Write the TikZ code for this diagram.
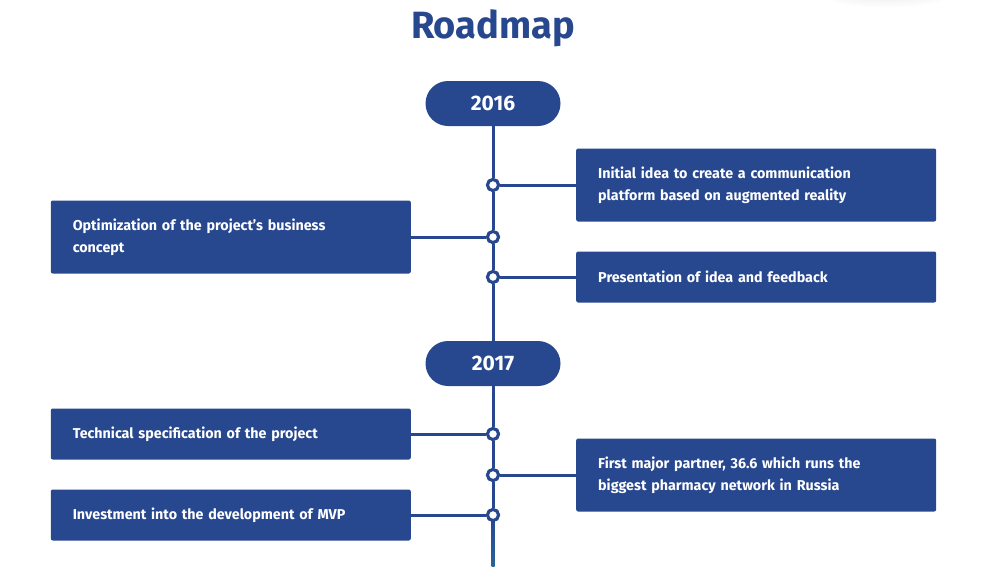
\documentclass[tikz,border=0pt]{standalone}
\usepackage{fontspec}
\setmainfont{Fira Sans}
\usepackage{tikz}
\usetikzlibrary{positioning, calc}

\definecolor{roadblue}{RGB}{39,71,143}
\definecolor{roadteal}{RGB}{40,100,152}

\begin{document}
\begin{tikzpicture}[
    x=1pt, y=-1pt,
    year/.style={rectangle, fill=roadblue, rounded corners=22.5pt, minimum width=135pt, minimum height=45pt, text=white, font=\fontsize{21}{24}\selectfont\bfseries},
    task/.style={rectangle, fill=roadblue, rounded corners=2pt, text width=316pt, inner xsep=22pt, inner ysep=0pt, minimum height=51pt, align=left, text=white, font=\fontsize{14.3}{22}\selectfont\bfseries},
    tall/.style={minimum height=73pt},
    dot/.style={circle, draw=roadblue, line width=3pt, fill=white, minimum size=11pt, inner sep=0pt},
    link/.style={draw=roadblue, line width=3pt}
]
    \useasboundingbox (0,0) rectangle (988,566);

    % faint shadow of the cut-off element top right
    \foreach \r in {1,...,6}
        \fill[black, opacity=0.008] (886,-6) ellipse ({42+4*\r} and {4+1.6*\r});

    % Title
    \node[text=roadblue, font=\fontsize{38}{44}\selectfont\bfseries] (title) at (493,28) {Roadmap};

    % Years
    \node[year] (y2016) at (493,103.5) {2016};
    \node[year] (y2017) at (493,363.5) {2017};

    % Dots on the spine
    \node[dot] (d1) at (493,185) {};
    \node[dot] (d2) at (493,237) {};
    \node[dot] (d3) at (493,277) {};
    \node[dot] (d4) at (493,434) {};
    \node[dot] (d5) at (493,475) {};
    \node[dot] (d6) at (493,515) {};
    \coordinate (end) at (493,566);

    % Tasks
    \node[task, tall, right=76pt of d1] (idea) {Initial idea to create a communication\\platform based on augmented reality};
    \node[task, tall, left=75pt of d2] (concept) {Optimization of the project’s business\\concept};
    \node[task, right=76pt of d3] (present) {Presentation of idea and feedback};
    \node[task, left=75pt of d4] (spec) {Technical specification of the project};
    \node[task, tall, right=76pt of d5] (partner) {First major partner, 36.6 which runs the\\biggest pharmacy network in Russia};
    \node[task, left=75pt of d6] (mvp) {Investment into the development of MVP};

    % Spine
    \shade[top color=roadblue, bottom color=roadteal] ($(d6)+(-1.5,0)$) rectangle ($(end)+(1.5,0)$);
    \draw[link] (y2016) -- (d1) -- (d2) -- (d3) -- (y2017) -- (d4) -- (d5) -- (d6);

    % Connectors
    \draw[link] (d1) -- (idea);
    \draw[link] (d2) -- (concept);
    \draw[link] (d3) -- (present);
    \draw[link] (d4) -- (spec);
    \draw[link] (d5) -- (partner);
    \draw[link] (d6) -- (mvp);

    % redraw dots on top
    \foreach \d in {d1,d2,d3,d4,d5,d6}
        \node[dot] at (\d) {};
\end{tikzpicture}
\end{document}
